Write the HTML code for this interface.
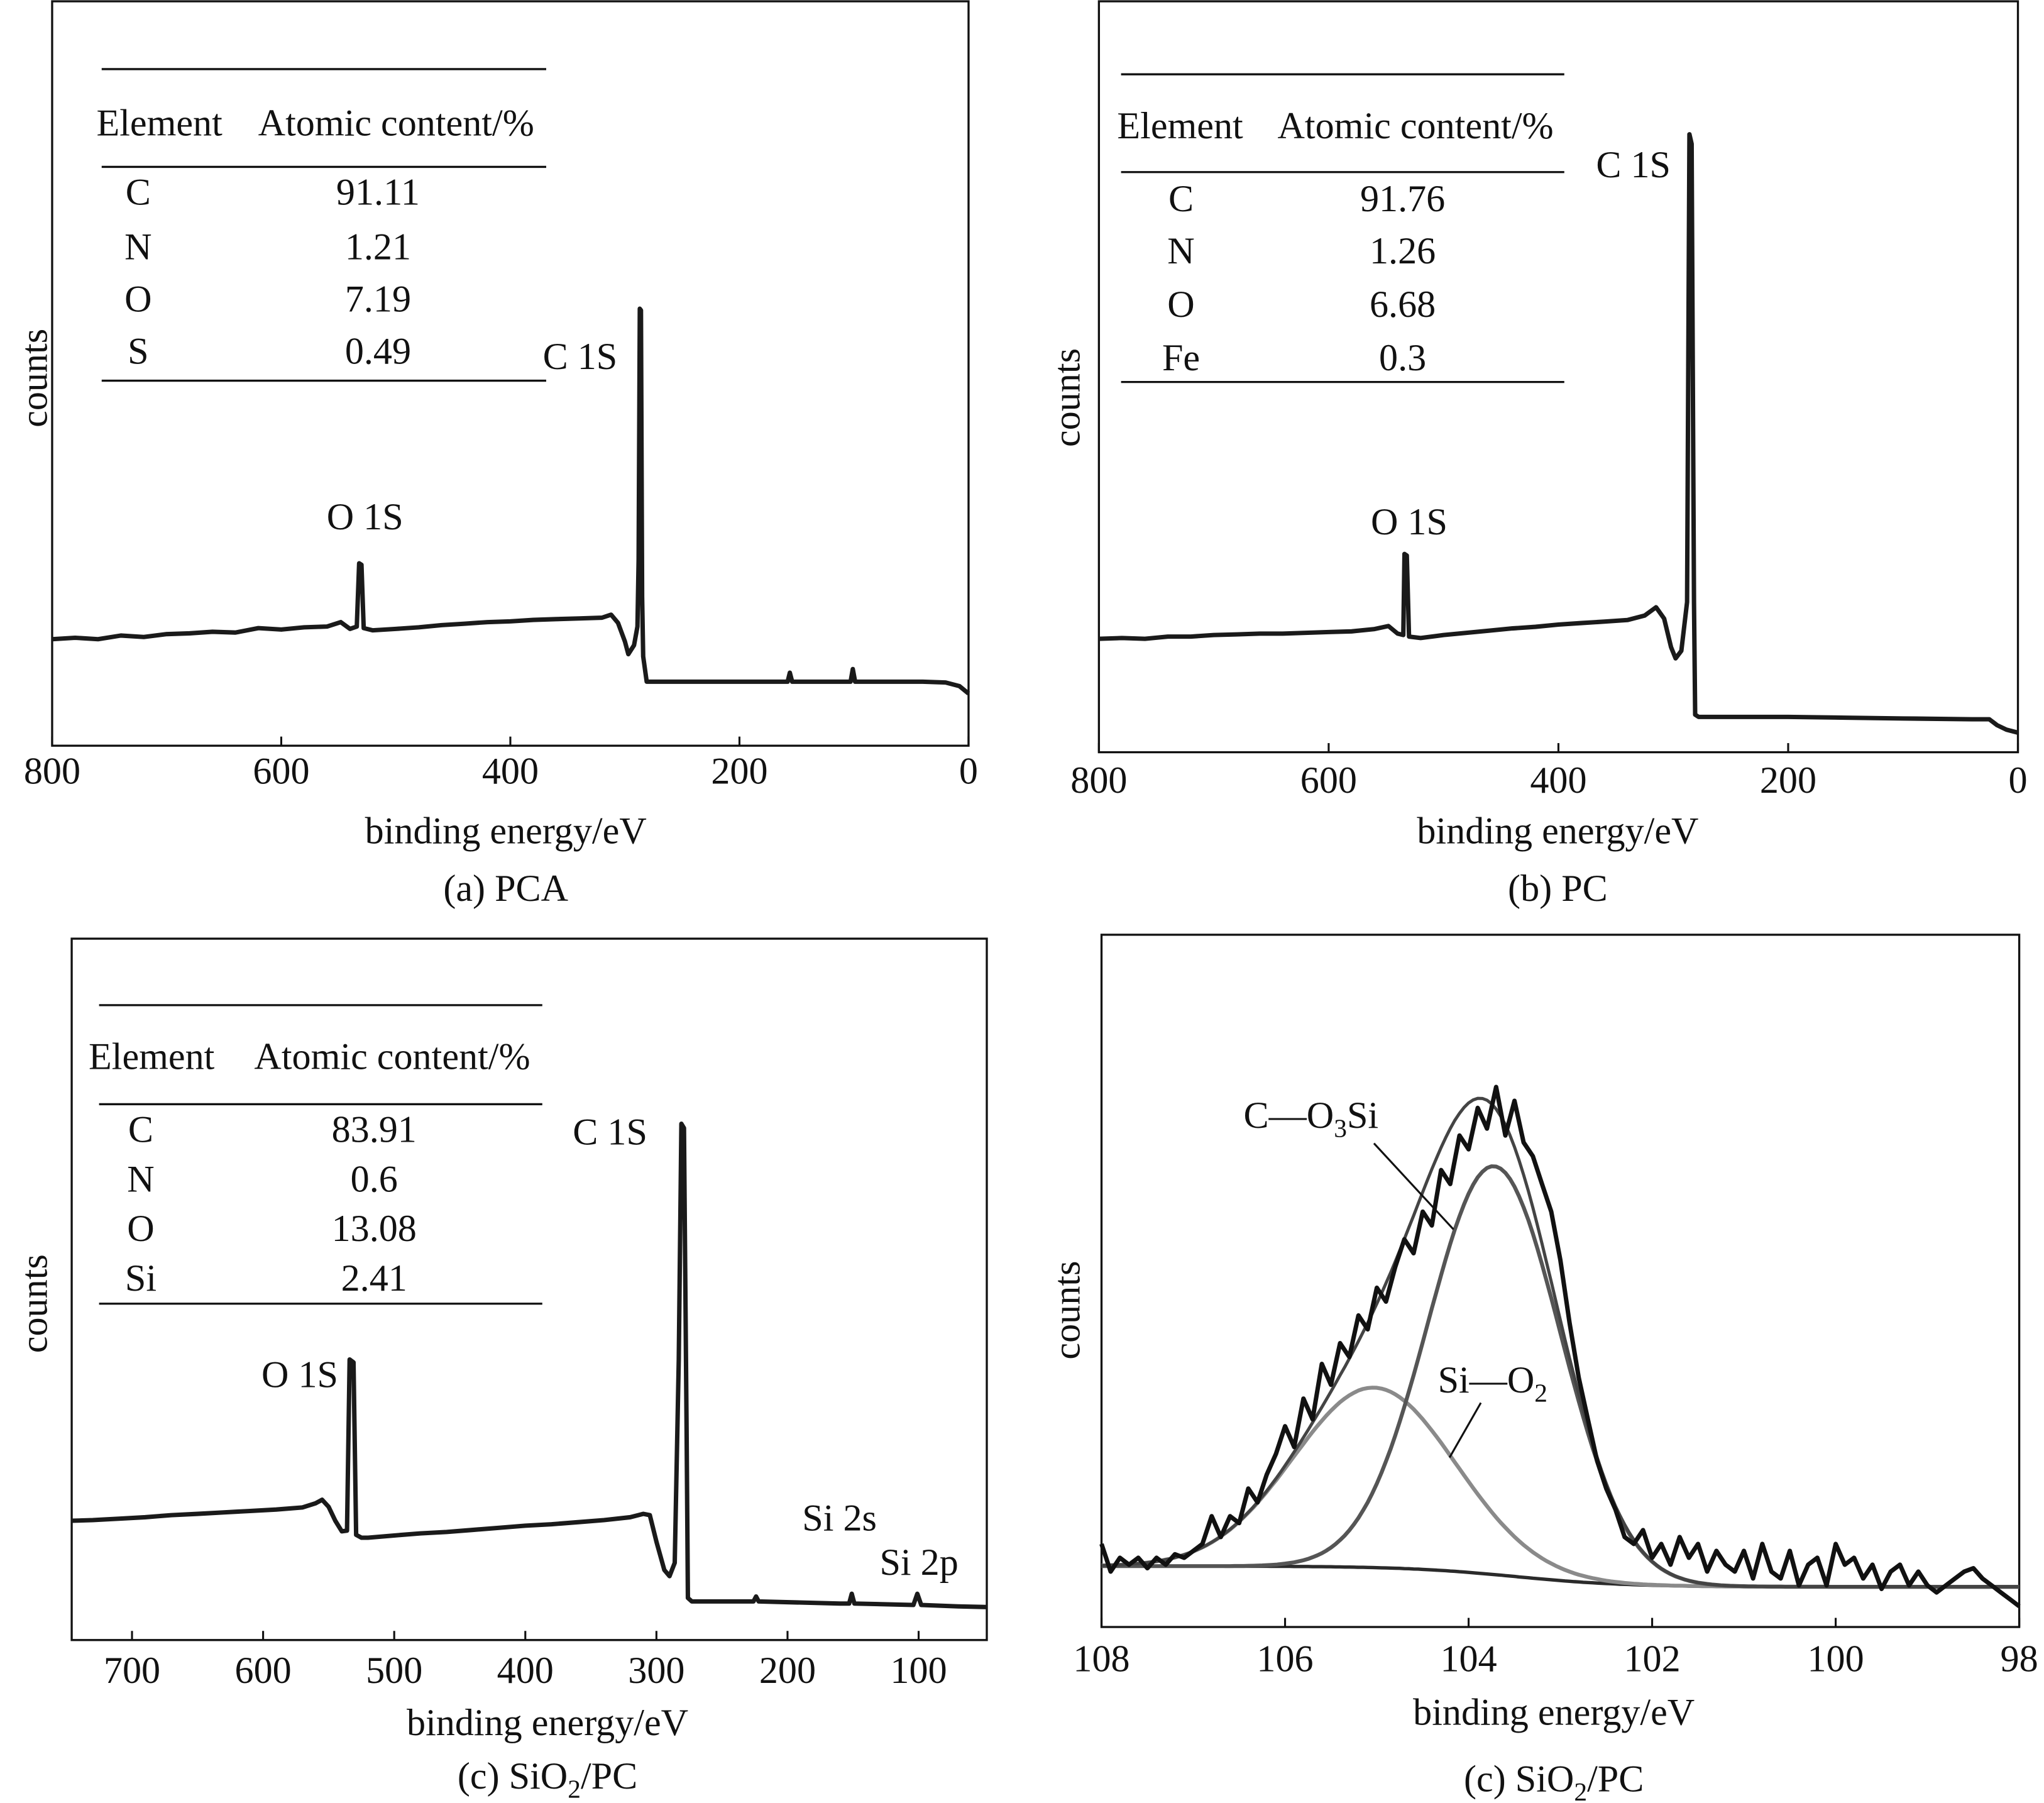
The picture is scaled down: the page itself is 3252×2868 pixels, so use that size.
<!DOCTYPE html>
<html><head><meta charset="utf-8"><style>
html,body{margin:0;padding:0;background:#fff}
svg{display:block}
text{font-family:"Liberation Serif",serif;fill:#111}
</style></head><body>
<svg id="fig" width="3252" height="2868" viewBox="0 0 1568 1383" preserveAspectRatio="none" xmlns="http://www.w3.org/2000/svg"></svg>
<script>
// ---- Panel (a) PCA survey data ----
const aEnergy=[800,780,760,740,720,700,680,660,640,620,600,580,560,548,540,534,532,530,528,520,500,480,460,440,420,400,380,360,340,320,312,306,300,297,292,289,288,287,286,285,284,281,260,200,158,156,154,110,103,101,99,40,20,8,0];
const aCounts=[14.3,14.5,14.3,14.8,14.6,15,15.1,15.3,15.2,15.8,15.6,15.9,16,16.6,15.7,16,24.5,24.3,15.8,15.5,15.7,15.9,16.2,16.4,16.6,16.7,16.9,17,17.1,17.2,17.6,16.5,14,12.3,13.5,16,25,58.7,58.5,20,12,8.6,8.6,8.6,8.6,9.8,8.6,8.6,8.6,10.3,8.6,8.6,8.5,8,7];
// ---- Panel (b) PC survey data ----
const bEnergy=[800,780,760,740,720,700,680,660,640,620,600,580,560,548,540,535,534,532,530,520,500,480,460,440,420,400,380,360,340,325,315,308,302,298,293,288,286,284,282,281,278,200,150,100,40,25,18,10,0];
const bCounts=[15.1,15.2,15.1,15.4,15.4,15.6,15.7,15.8,15.8,15.9,16,16.1,16.4,16.8,15.8,15.6,26.4,26.2,15.4,15.2,15.6,15.9,16.2,16.5,16.7,17,17.2,17.4,17.6,18.2,19.3,17.8,14,12.5,13.5,20,82.3,81,20,5,4.7,4.7,4.6,4.5,4.4,4.4,3.6,3,2.6];
// ---- Panel (c) SiO2/PC survey data ----
const cEnergy=[746,730,710,690,670,650,630,610,590,570,560,555,550,545,540,536,534,531,529,525,520,500,480,460,440,420,400,380,360,340,320,310,305,300,294,290,286,283,281,279,277,276,273,240,226,224,222,160,153,151,149,104,101,98,70,48];
const cCounts=[17,17.1,17.3,17.5,17.8,18,18.2,18.4,18.6,18.9,19.5,20,19,17,15.5,15.6,40,39.6,15,14.6,14.6,14.9,15.2,15.4,15.7,16,16.3,16.5,16.8,17.1,17.5,18,17.8,14,10,9.1,11,40,73.6,73,30,6,5.5,5.5,5.5,6.2,5.5,5.2,5.2,6.6,5.2,5,6.6,5,4.8,4.7];
// ---- Panel (d) Si 2p high-resolution data ----
const dEnergy=[108.0,107.9,107.8,107.7,107.6,107.5,107.4,107.3,107.2,107.1,107.0,106.9,106.8,106.7,106.6,106.5,106.4,106.3,106.2,106.1,106.0,105.9,105.8,105.7,105.6,105.5,105.4,105.3,105.2,105.1,105.0,104.9,104.8,104.7,104.6,104.5,104.4,104.3,104.2,104.1,104.0,103.9,103.8,103.7,103.6,103.5,103.4,103.3,103.2,103.1,103.0,102.9,102.8,102.7,102.6,102.5,102.4,102.3,102.2,102.1,102.0,101.9,101.8,101.7,101.6,101.5,101.4,101.3,101.2,101.1,101.0,100.9,100.8,100.7,100.6,100.5,100.4,100.3,100.2,100.1,100.0,99.9,99.8,99.7,99.6,99.5,99.4,99.3,99.2,99.1,99.0,98.9,98.8,98.7,98.6,98.5,98.4,98.3,98.2,98.1,98.0];
const dRaw=[12,8,10,9,10,8.5,10,9,10.5,10,11,12,16,13,16,15,20,18,22,25,29,26,33,30,38,35,41,39,45,43,49,47,52,56,54,60,58,66,64,71,69,75,72,78,71,76,70,68,64,60,53,44,36,30,24,20,17,13,12,14,10,12,9,13,10,12,8,11,9,8,11,7,12,8,7,11,6,9,10,6,12,9,10,7,9,5.5,8,9,6,8,6,5,6,7,8,8.5,7,6,5,4,3];
const fitCenters=[103.72,105.03];
const fitHeights=[59,26];
const fitWidths=[0.72,0.88];
const bgHigh=8.8, bgLow=5.8, bgCenter=103.5;
const surveyTicksA=[800,600,400,200,0];
const surveyTicksC=[700,600,500,400,300,200,100];
const hrTicks=[108,106,104,102,100,98];

const FS=29;
const NS="http://www.w3.org/2000/svg";
const svg=document.getElementById('fig');
function el(tag,attrs,parent){const e=document.createElementNS(NS,tag);for(const k in attrs)e.setAttribute(k,attrs[k]);(parent||svg).appendChild(e);return e;}
function txt(s,x,y,anchor,parent,size){const t=el('text',{x:x,y:y,'text-anchor':anchor||'middle','font-size':size||FS},parent);t.textContent=s;return t;}

function makeAxes(name,L,R,T,B,emax,emin){
  const g=el('g',{});
  
  
  const fr=el('rect',{x:L,y:T,width:R-L,height:B-T,fill:'none',stroke:'#111','stroke-width':1.6},g);
  
  
  return {g:g,x:e=>L+(emax-e)/(emax-emin)*(R-L),y:c=>B-c/100*(B-T),L,R,T,B};
}
function ticks(ax,vals,labY){
  vals.forEach(v=>{
    const x=ax.x(v);
    const t=el('line',{x1:x,y1:ax.B,x2:x,y2:ax.B-7,stroke:'#111','stroke-width':1.5},ax.g);
    
    
    const l=txt(String(v),x,labY,'middle',ax.g);
    
    
  });
}
function line(ax,E,C,name,color,w){
  const d=E.map((e,i)=>(i?'L':'M')+ax.x(e).toFixed(1)+','+ax.y(C[i]).toFixed(1)).join(' ');
  const p=el('path',{d:d,fill:'none',stroke:color,'stroke-width':w,'stroke-linejoin':'round'},ax.g);
  
  
}
function labels(ax,cx,xlabY,capY,capHTML,countsX,countsY){
  const xl=txt('binding energy/eV',cx,xlabY,'middle',ax.g);
  
  
  const cap=el('text',{x:cx,y:capY,'text-anchor':'middle','font-size':FS},ax.g);
  cap.innerHTML=capHTML;
  
  
  const yl=txt('counts',0,0,'middle',ax.g);
  yl.setAttribute('transform','translate('+countsX+','+countsY+') rotate(-90)');
  
  
}
function table(ax,x1,x2,yTop,yHead,yMid,rows,rowY,elX,valX,yBot,hx,ax2){
  const tg=el('g',{},ax.g);
  
  
  [yTop,yMid,yBot].forEach(y=>el('line',{x1:x1,y1:y,x2:x2,y2:y,stroke:'#111','stroke-width':1.6},tg));
  txt('Element',hx,yHead,'start',tg);
  txt('Atomic content/%',ax2,yHead,'start',tg);
  rows.forEach((r,i)=>{txt(r[0],elX,rowY[i],'middle',tg);txt(r[1],valX,rowY[i],'middle',tg);});
}
const withSub=(a,s,b)=>'<tspan>'+a+'</tspan><tspan font-size="20" dy="7">'+s+'</tspan><tspan dy="-7">'+b+'</tspan>';

// Panel a
const A=makeAxes('panel-a-pca',40,743,1,572,800,0);
ticks(A,surveyTicksA,601);
line(A,aEnergy,aCounts,'pca-spectrum','#1a1a1a',3.4);
labels(A,388,647,691,'(a) PCA',36,290);
table(A,78,419,53,104,128,[['C','91.11'],['N','1.21'],['O','7.19'],['S','0.49']],[157,199,239,279],106,290,292,74,198);
txt('C 1S',445,283,'middle',A.g);
txt('O 1S',280,406,'middle',A.g);

// Panel b
const B=makeAxes('panel-b-pc',843,1548,1,577,800,0);
ticks(B,surveyTicksA,608);
line(B,bEnergy,bCounts,'pc-spectrum','#1a1a1a',3.4);
labels(B,1195,647,691,'(b) PC',828,305);
table(B,860,1200,57,106,132,[['C','91.76'],['N','1.26'],['O','6.68'],['Fe','0.3']],[162,202,243,284],906,1076,293,857,980);
txt('C 1S',1253,136,'middle',B.g);
txt('O 1S',1081,410,'middle',B.g);

// Panel c
const C=makeAxes('panel-c-sio2-pc',55,757,720,1258,746,48);
ticks(C,surveyTicksC,1291);
line(C,cEnergy,cCounts,'sio2-pc-spectrum','#1a1a1a',3.4);
labels(C,420,1331,1372,withSub('(c) SiO','2','/PC'),36,1000);
table(C,76,416,771,820,847,[['C','83.91'],['N','0.6'],['O','13.08'],['Si','2.41']],[876,914,952,990],108,287,1000,68,195);
txt('C 1S',468,878,'middle',C.g);
txt('O 1S',230,1064,'middle',C.g);
txt('Si 2s',644,1174,'middle',C.g);
txt('Si 2p',705,1208,'middle',C.g);

// Panel d
const D=makeAxes('panel-d-si2p',845,1549,717,1248,108,98);
ticks(D,hrTicks,1282);
labels(D,1192,1323,1374,withSub('(c) SiO','2','/PC'),828,1005);
const fine=[];for(let i=0;i<=200;i++)fine.push(108-i*0.05);
const bg=fine.map(e=>bgLow+(bgHigh-bgLow)/(1+Math.exp(-(e-bgCenter)/0.6)));
line(D,fine,bg,'background-line','#2a2a2a',2.6);
const g2=fine.map((e,i)=>bg[i]+fitHeights[1]*Math.exp(-Math.pow(e-fitCenters[1],2)/(2*fitWidths[1]*fitWidths[1])));
line(D,fine,g2,'si-o2-fit','#8a8a8a',3);
const g1=fine.map((e,i)=>bg[i]+fitHeights[0]*Math.exp(-Math.pow(e-fitCenters[0],2)/(2*fitWidths[0]*fitWidths[0])));
line(D,fine,g1,'c-o3si-fit','#555',3);
const env=fine.map((e,i)=>g1[i]+g2[i]-bg[i]);
line(D,fine,env,'envelope-fit','#444',2.4);
line(D,dEnergy,dRaw,'raw-spectrum','#111',3.4);
const l1=el('line',{x1:1054,y1:877,x2:1115,y2:943,stroke:'#111','stroke-width':1.5},D.g);


const l2=el('line',{x1:1136,y1:1076,x2:1112,y2:1118,stroke:'#111','stroke-width':1.5},D.g);


const t1=el('text',{x:954,y:865,'text-anchor':'start','font-size':FS},D.g);
t1.innerHTML=withSub('C—O','3','Si');


const t2=el('text',{x:1103,y:1068,'text-anchor':'start','font-size':FS},D.g);
t2.innerHTML=withSub('Si—O','2','');


</script>
</body></html>
